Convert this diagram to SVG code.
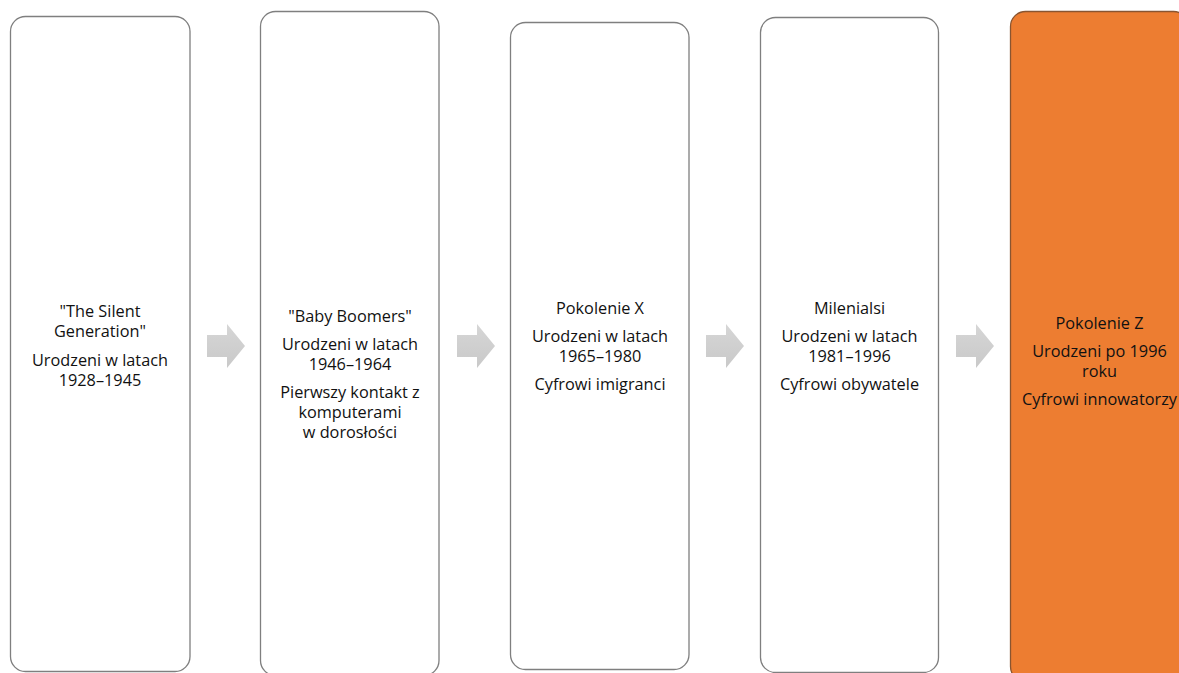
<svg xmlns="http://www.w3.org/2000/svg" width="1179" height="673" viewBox="0 0 1179 673">
  <defs>
    <linearGradient id="arrowGrad" x1="0" y1="0" x2="0" y2="1">
      <stop offset="0" stop-color="#d6d6d6"/>
      <stop offset="1" stop-color="#c9c9c9"/>
    </linearGradient>
    <style>
      .box { fill: #ffffff; stroke: #7f7f7f; stroke-width: 1.3; }
      .box-hl { fill: #ED7D31; stroke: #8a5530; stroke-width: 1.3; }
      .arrow { fill: url(#arrowGrad); stroke: none; }
      text { font-family: "Open Sans", "Liberation Sans", sans-serif; font-size: 16.3px; fill: #111111; text-anchor: middle; }
    </style>
  </defs>
  <rect width="1179" height="673" fill="#ffffff"/>

  <g id="node-silent">
    <rect class="box" x="10.5" y="16.5" width="179.5" height="655" rx="15" ry="15"/>
    <text x="100" y="317">"The Silent</text>
    <text x="100" y="337">Generation"</text>
    <text x="100" y="365.5">Urodzeni w latach</text>
    <text x="100" y="385.5">1928–1945</text>
  </g>

  <g id="node-boomers">
    <rect class="box" x="260.5" y="11.5" width="178.5" height="664" rx="15" ry="15"/>
    <text x="350" y="322">"Baby Boomers"</text>
    <text x="350" y="349.5">Urodzeni w latach</text>
    <text x="350" y="369.5">1946–1964</text>
    <text x="350" y="398">Pierwszy kontakt z</text>
    <text x="350" y="418">komputerami</text>
    <text x="350" y="438">w dorosłości</text>
  </g>

  <g id="node-genx">
    <rect class="box" x="510.5" y="22.5" width="178.5" height="647" rx="15" ry="15"/>
    <text x="600" y="313.5">Pokolenie X</text>
    <text x="600" y="341.5">Urodzeni w latach</text>
    <text x="600" y="361.5">1965–1980</text>
    <text x="600" y="390">Cyfrowi imigranci</text>
  </g>

  <g id="node-millennials">
    <rect class="box" x="760.5" y="17.5" width="178" height="655" rx="15" ry="15"/>
    <text x="849.5" y="313.5">Milenialsi</text>
    <text x="849.5" y="341.5">Urodzeni w latach</text>
    <text x="849.5" y="361.5">1981–1996</text>
    <text x="849.5" y="390">Cyfrowi obywatele</text>
  </g>

  <g id="node-genz">
    <rect class="box-hl" x="1010.5" y="11.5" width="178" height="670" rx="15" ry="15"/>
    <text x="1099.5" y="328.5">Pokolenie Z</text>
    <text x="1099.5" y="356.5">Urodzeni po 1996</text>
    <text x="1099.5" y="376.5">roku</text>
    <text x="1099.5" y="404.5">Cyfrowi innowatorzy</text>
  </g>

  <g id="connectors">
    <path class="arrow" d="M207,335 H227 V324 L245,346 L227,368 V357 H207 Z"/>
    <path class="arrow" d="M457,335 H477 V324 L495,346 L477,368 V357 H457 Z"/>
    <path class="arrow" d="M706,335 H726 V324 L744,346 L726,368 V357 H706 Z"/>
    <path class="arrow" d="M956,335 H976 V324 L994,346 L976,368 V357 H956 Z"/>
  </g>
</svg>
